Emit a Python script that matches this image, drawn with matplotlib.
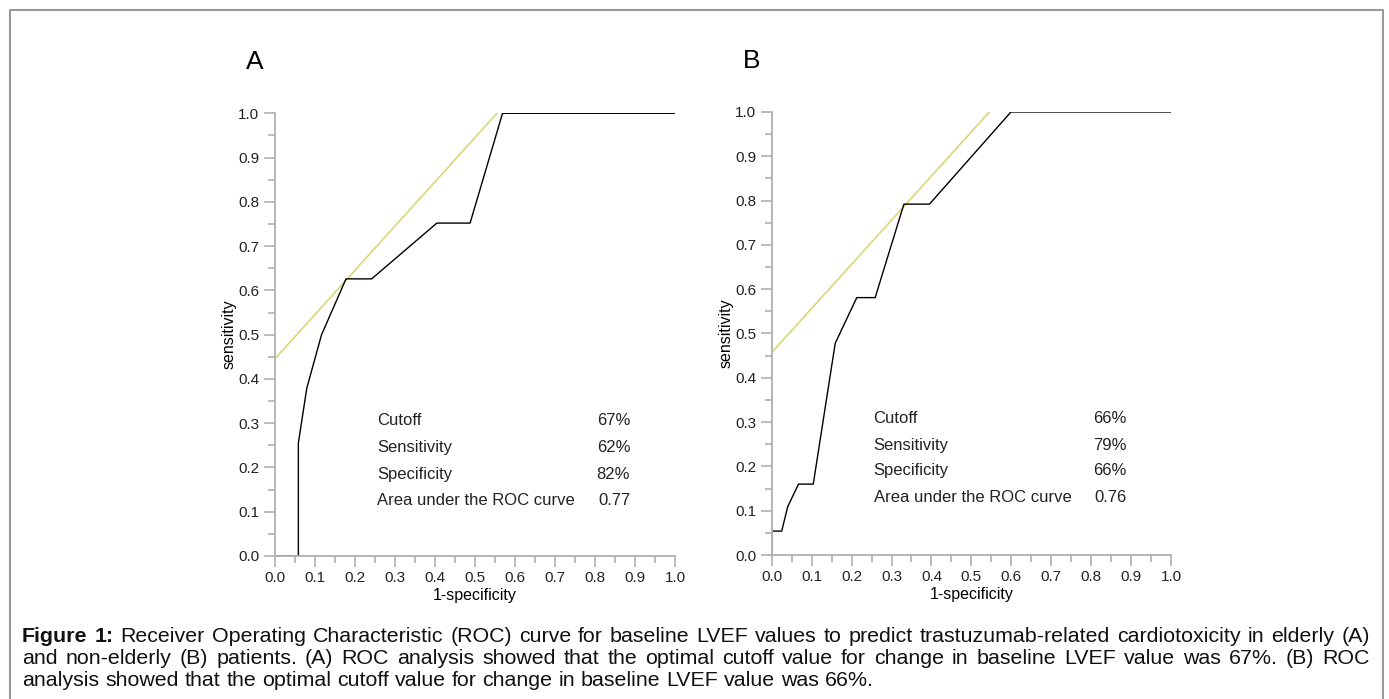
import matplotlib.pyplot as plt
from matplotlib.ticker import MultipleLocator
from matplotlib.lines import Line2D

plt.rcParams['font.family'] = ['Liberation Sans', 'DejaVu Sans']

# ROC curve A (elderly)
fpr_a = [0.0, 0.059, 0.059, 0.08, 0.117, 0.178, 0.242, 0.405, 0.488, 0.569, 1.0]
tpr_a = [0.0, 0.0, 0.255, 0.379, 0.5, 0.626, 0.626, 0.752, 0.752, 1.0, 1.0]
tangent_a = [0.0, 0.555]
tangent_a_y = [0.445, 1.0]

# ROC curve B (non-elderly)
fpr_b = [0.0, 0.0, 0.025, 0.04, 0.067, 0.104, 0.159, 0.213, 0.259, 0.331, 0.395, 0.599, 1.0]
tpr_b = [0.0, 0.054, 0.054, 0.109, 0.16, 0.16, 0.478, 0.581, 0.581, 0.792, 0.792, 1.0, 1.0]
tangent_b = [0.0, 0.545]
tangent_b_y = [0.457, 1.0]

stat_names = ['Cutoff', 'Sensitivity', 'Specificity', 'Area under the ROC curve']
stats_a = ['67%', '62%', '82%', '0.77']
stats_b = ['66%', '79%', '66%', '0.76']

fig = plt.figure(figsize=(13.89, 6.99), dpi=100)

# frame around the figure
W, H = 1389, 699
fig.add_artist(Line2D([10 / W, 10 / W, 1383 / W, 1383 / W], [0, 1 - 10 / H, 1 - 10 / H, 0],
                      transform=fig.transFigure, color='#9a9a9a', lw=1.5))

axis_col = '#b0b0b0'


def roc_panel(rect, fpr, tpr, tx, ty, stats, label, rows):
    ax = fig.add_axes(rect)
    ax.plot(tx, ty, color='#d8d878', lw=1.2)
    ax.plot(fpr, tpr, color='black', lw=1.0)
    ax.set_xlim(0, 1)
    ax.set_ylim(0, 1)
    for s in ['top', 'right']:
        ax.spines[s].set_visible(False)
    for s in ['left', 'bottom']:
        ax.spines[s].set_color(axis_col)
        ax.spines[s].set_linewidth(1.3)
    ax.xaxis.set_major_locator(MultipleLocator(0.1))
    ax.xaxis.set_minor_locator(MultipleLocator(0.05))
    ax.yaxis.set_major_locator(MultipleLocator(0.1))
    ax.yaxis.set_minor_locator(MultipleLocator(0.05))
    ax.xaxis.set_major_formatter(lambda v, p: f'{v:.1f}')
    ax.yaxis.set_major_formatter(lambda v, p: f'{v:.1f}')
    ax.tick_params(which='major', length=8, width=1.2, color=axis_col, labelsize=11,
                   labelcolor='#222222', pad=3)
    ax.tick_params(which='minor', length=5, width=1.2, color=axis_col)
    ax.set_xlabel('1-specificity', fontsize=11.5, labelpad=2)
    ax.set_ylabel('sensitivity', fontsize=11.5, labelpad=1)
    for name, val, yy in zip(stat_names, stats, rows):
        ax.text(0.255, yy, name, fontsize=12, va='center', ha='left', color='#222222')
        ax.text(0.888, yy, val, fontsize=12, va='center', ha='right', color='#222222')
    ax.text(-0.05, 1.115, label, fontsize=19, va='center', ha='center',
            transform=ax.transAxes)
    return ax


roc_panel([0.1978, 0.2046, 0.2882, 0.6333], fpr_a, tpr_a, tangent_a, tangent_a_y,
          stats_a, 'A', [0.305, 0.245, 0.185, 0.126])
roc_panel([0.5556, 0.206, 0.2875, 0.6338], fpr_b, tpr_b, tangent_b, tangent_b_y,
          stats_b, 'B', [0.309, 0.248, 0.19, 0.130])

# caption, justified like the source
caption_lines = [
    'Figure 1: Receiver Operating Characteristic (ROC) curve for baseline LVEF values to predict '
    'trastuzumab-related cardiotoxicity in elderly (A)',
    'and non-elderly (B) patients. (A) ROC analysis showed that the optimal cutoff value for '
    'change in baseline LVEF value was 67%. (B) ROC',
    'analysis showed that the optimal cutoff value for change in baseline LVEF value was 66%.',
]
baselines = [642, 664, 686]
x_left, x_right = 22, 1370
cap_size = 15.4
renderer = fig.canvas.get_renderer()
for i, (line, base) in enumerate(zip(caption_lines, baselines)):
    words = line.split(' ')
    texts = []
    for j, w in enumerate(words):
        bold = (i == 0 and j < 2)
        t = fig.text(0, 1 - base / H, w, fontsize=cap_size, va='baseline', ha='left',
                     fontweight='bold' if bold else 'normal', color='#111111')
        texts.append(t)
    widths = [t.get_window_extent(renderer).width for t in texts]
    if i < len(caption_lines) - 1:
        gap = (x_right - x_left - sum(widths)) / (len(words) - 1)
    else:
        gap = cap_size * 100 / 72 * 0.278
    x = x_left
    for t, w in zip(texts, widths):
        t.set_x(x / W)
        x += w + gap

fig.savefig('out.png', dpi=100)
